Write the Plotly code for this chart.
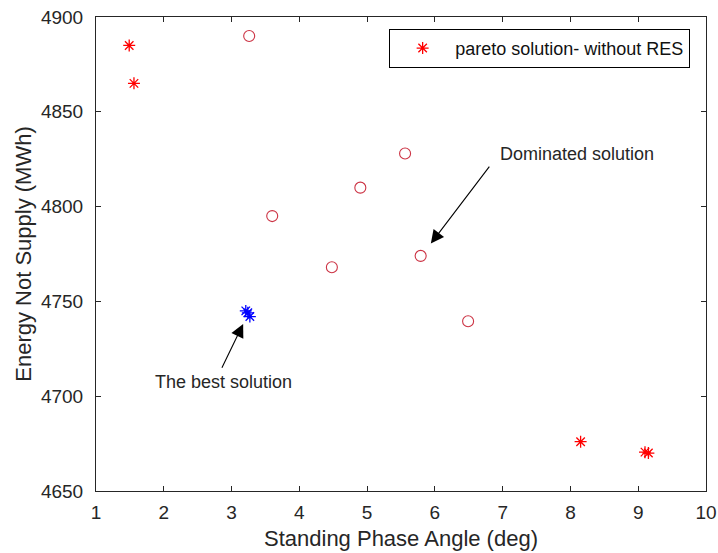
import plotly.graph_objects as go

# Pareto solutions (red stars)
pareto_x = [1.49, 1.56, 8.15, 9.10, 9.15]
pareto_y = [4885, 4865, 4676, 4670.5, 4670]

# Dominated solutions (open circles)
dom_x = [3.26, 3.60, 4.48, 4.90, 5.56, 5.79, 6.49]
dom_y = [4890, 4795, 4768, 4810, 4828, 4774, 4739.5]

# Best solution (blue stars)
best_x = [3.21, 3.24, 3.27]
best_y = [4745, 4744, 4742]

x_ticks = [1, 2, 3, 4, 5, 6, 7, 8, 9, 10]
y_ticks = [4650, 4700, 4750, 4800, 4850, 4900]

FONT = "Liberation Sans, Arial, sans-serif"
DARK = "#262626"

fig = go.Figure()
fig.add_trace(go.Scatter(
    x=pareto_x, y=pareto_y, mode="markers", name="pareto solution- without RES",
    marker=dict(symbol="asterisk-open", size=10, color="#ff0000",
                line=dict(color="#ff0000", width=1.3)),
))
fig.add_trace(go.Scatter(
    x=dom_x, y=dom_y, mode="markers", showlegend=False,
    marker=dict(symbol="circle-open", size=11, color="#cc3344",
                line=dict(color="#cc3344", width=1.1)),
))
fig.add_trace(go.Scatter(
    x=best_x, y=best_y, mode="markers", showlegend=False,
    marker=dict(symbol="asterisk-open", size=10, color="#0000ff",
                line=dict(color="#0000ff", width=1.3)),
))

# arrows
fig.add_annotation(x=3.171, y=4738.1, ax=2.847, ay=4714.2, xref="x", yref="y",
                   axref="x", ayref="y", text="", showarrow=True,
                   arrowhead=2, arrowsize=2.4, arrowwidth=1.1, arrowcolor="#000000")
fig.add_annotation(x=5.94, y=4780.5, ax=6.82, ay=4821.9, xref="x", yref="y",
                   axref="x", ayref="y", text="", showarrow=True,
                   arrowhead=2, arrowsize=2.4, arrowwidth=1.1, arrowcolor="#000000")
# texts
fig.add_annotation(x=2.885, y=4707.6, xref="x", yref="y", text="The best solution",
                   showarrow=False, font=dict(family=FONT, size=18, color=DARK),
                   xanchor="center", yanchor="middle")
fig.add_annotation(x=6.93, y=4827.6, xref="x", yref="y", text="Dominated solution",
                   showarrow=False, font=dict(family=FONT, size=18, color=DARK),
                   xanchor="left", yanchor="middle")

fig.update_layout(
    width=718, height=553,
    margin=dict(l=96, r=12, t=17, b=62),
    paper_bgcolor="white", plot_bgcolor="white",
    font=dict(family=FONT, color=DARK, size=19),
    showlegend=True,
    legend=dict(x=0.974, y=0.975, xanchor="right", yanchor="top",
                bgcolor="white", bordercolor="#000000", borderwidth=1,
                font=dict(family=FONT, size=18, color="#111111"),
                itemwidth=55),
    xaxis=dict(range=[1, 10], tickmode="array", tickvals=x_ticks,
               ticktext=[str(v) for v in x_ticks], automargin=False,
               showgrid=False, zeroline=False, showline=True, linecolor=DARK,
               linewidth=1, mirror="ticks", ticks="inside", ticklen=5,
               tickcolor=DARK, ticklabelstandoff=4,
               tickfont=dict(family=FONT, size=19, color=DARK),
               title=dict(text="Standing Phase Angle (deg)", standoff=8,
                          font=dict(family=FONT, size=22, color=DARK))),
    yaxis=dict(range=[4650, 4900], tickmode="array", tickvals=y_ticks,
               ticktext=[str(v) for v in y_ticks], automargin=False,
               showgrid=False, zeroline=False, showline=True, linecolor=DARK,
               linewidth=1, mirror="ticks", ticks="inside", ticklen=5,
               tickcolor=DARK, ticklabelstandoff=8,
               tickfont=dict(family=FONT, size=19, color=DARK),
               title=dict(text="Energy Not Supply (MWh)", standoff=3,
                          font=dict(family=FONT, size=22, color=DARK))),
)

fig.write_html("out.html")
